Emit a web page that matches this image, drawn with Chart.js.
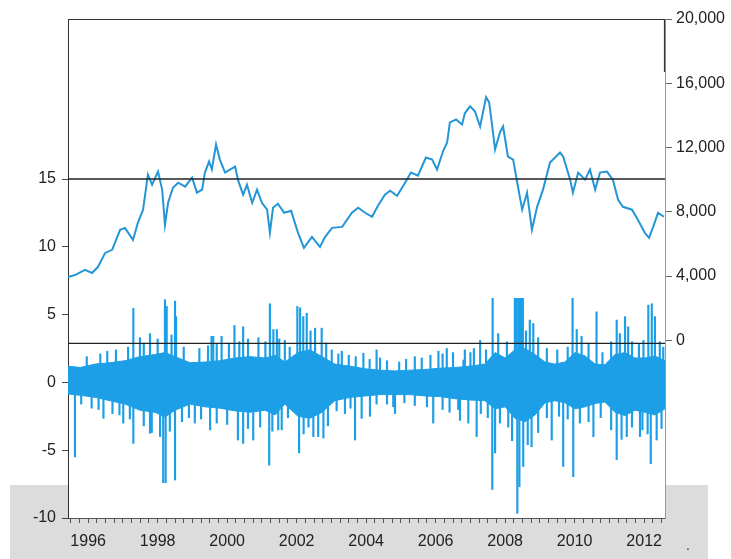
<!DOCTYPE html>
<html>
<head>
<meta charset="utf-8">
<script src="https://cdn.jsdelivr.net/npm/chart.js@4/dist/chart.umd.min.js"></script>
<style>
  html, body { margin: 0; padding: 0; background: #fff; }
  canvas { display: block; }
</style>
</head>
<body>
<canvas id="chart" width="731" height="559"></canvas>
<script>
// index level (right axis)
const priceYears = [1995.42, 1995.62, 1995.91, 1996.11, 1996.28, 1996.49, 1996.69, 1996.92, 1997.06, 1997.29,
  1997.43, 1997.58, 1997.72, 1997.84, 1998.01, 1998.13, 1998.21, 1998.30, 1998.44, 1998.59,
  1998.79, 1998.99, 1999.13, 1999.28, 1999.36, 1999.48, 1999.56, 1999.68, 1999.79, 1999.94,
  2000.08, 2000.23, 2000.31, 2000.46, 2000.57, 2000.72, 2000.86, 2001.00, 2001.15, 2001.23,
  2001.32, 2001.46, 2001.64, 2001.84, 2002.04, 2002.21, 2002.44, 2002.67, 2002.82, 2003.02,
  2003.31, 2003.59, 2003.77, 2003.97, 2004.17, 2004.34, 2004.54, 2004.69, 2004.89, 2005.12,
  2005.29, 2005.49, 2005.72, 2005.90, 2006.04, 2006.21, 2006.33, 2006.41, 2006.59, 2006.76,
  2006.84, 2006.99, 2007.13, 2007.28, 2007.45, 2007.54, 2007.65, 2007.71, 2007.85, 2007.94,
  2008.08, 2008.23, 2008.37, 2008.49, 2008.63, 2008.77, 2008.92, 2009.09, 2009.29, 2009.58,
  2009.67, 2009.87, 2009.95, 2010.10, 2010.30, 2010.44, 2010.59, 2010.73, 2010.93, 2011.10,
  2011.25, 2011.39, 2011.65, 2011.82, 2012.02, 2012.14, 2012.26, 2012.40, 2012.57];
const priceValues = [3940, 4060, 4380, 4190, 4560, 5440, 5630, 6880, 7000, 6250,
  7310, 8130, 10310, 9690, 10500, 9380, 7190, 8560, 9500, 9810,
  9560, 10130, 9190, 9380, 10440, 11130, 10630, 12190, 11250, 10440,
  10630, 10810, 10000, 9060, 9690, 8560, 9380, 8560, 8130, 6690,
  8250, 8500, 7940, 8060, 6690, 5750, 6440, 5810, 6440, 7000,
  7060, 7940, 8250, 7940, 7690, 8380, 9060, 9310, 9000, 9810,
  10440, 10250, 11380, 11250, 10630, 11750, 12310, 13560, 13750, 13440,
  14130, 14560, 14250, 13310, 15130, 14810, 12940, 11880, 12940, 13310,
  11440, 11250, 9560, 8130, 9190, 6880, 8310, 9380, 11060, 11690,
  11440, 10000, 9190, 10440, 10000, 10630, 9380, 10440, 10500, 10000,
  8750, 8310, 8130, 7500, 6690, 6380, 7060, 7940, 7690];

// returns (left axis): dense core band
const bandYears = [1995.42, 1995.77, 1996.20, 1996.63, 1997.06, 1997.49, 1997.92, 1998.21, 1998.50, 1998.93,
  1999.36, 1999.79, 2000.23, 2000.66, 2001.09, 2001.38, 2001.66, 2002.04, 2002.38, 2002.73,
  2003.10, 2003.54, 2003.97, 2004.40, 2004.83, 2005.26, 2005.69, 2006.13, 2006.56, 2006.99,
  2007.42, 2007.71, 2008.00, 2008.28, 2008.57, 2008.86, 2009.15, 2009.43, 2009.72, 2010.01,
  2010.30, 2010.59, 2010.87, 2011.16, 2011.45, 2011.73, 2012.02, 2012.31, 2012.60];
const bandUpper = [1.2, 1.1, 1.35, 1.45, 1.6, 1.9, 2.05, 2.2, 1.9, 1.45,
  1.5, 1.6, 1.8, 1.9, 1.8, 2.0, 1.5, 2.2, 2.4, 1.9,
  1.35, 1.2, 1.0, 0.9, 0.85, 0.9, 0.95, 1.05, 1.1, 1.2,
  1.35, 2.2, 1.8, 2.4, 2.5, 2.05, 1.5, 1.35, 1.5, 2.2,
  1.95, 1.35, 1.3, 2.05, 2.2, 1.8, 1.8, 1.95, 1.6];
const bandLower = [-0.85, -0.95, -1.1, -1.35, -1.6, -2.05, -2.2, -2.55, -2.05, -1.6,
  -1.8, -1.9, -2.1, -2.2, -2.05, -2.4, -1.6, -2.5, -2.65, -2.2,
  -1.35, -1.1, -1.0, -0.9, -0.9, -0.9, -1.0, -1.05, -1.2, -1.3,
  -1.35, -1.95, -1.8, -2.65, -2.9, -2.4, -1.5, -1.35, -1.5, -1.95,
  -1.8, -1.55, -1.45, -2.2, -2.45, -2.05, -2.2, -2.4, -1.95];

// returns (left axis): individual spikes, upward then downward
const spikeYears = [1995.96, 1996.35, 1996.55, 1996.80, 1997.15, 1997.30, 1997.49, 1997.60, 1997.78, 1998.00,
  1998.21, 1998.26, 1998.40, 1998.50, 1998.53, 1998.75, 1999.20, 1999.45, 1999.55, 1999.60,
  1999.70, 1999.84, 2000.05, 2000.21, 2000.35, 2000.46, 2000.60, 2000.90, 2001.10, 2001.23,
  2001.33, 2001.43, 2001.50, 2001.66, 2001.80, 2002.02, 2002.10, 2002.19, 2002.29, 2002.40,
  2002.53, 2002.72, 2002.85, 2003.01, 2003.20, 2003.30, 2003.50, 2003.70, 2003.92, 2004.10,
  2004.30, 2004.40, 2004.60, 2004.95, 2005.15, 2005.40, 2005.60, 2005.85, 2006.08, 2006.20,
  2006.32, 2006.50, 2006.80, 2006.84, 2007.00, 2007.10, 2007.28, 2007.45, 2007.64, 2007.80,
  2008.05, 2008.28, 2008.33, 2008.38, 2008.43, 2008.47, 2008.51, 2008.60, 2008.71, 2008.81,
  2008.95, 2009.20, 2009.50, 2009.80, 2009.94, 2010.06, 2010.20, 2010.40, 2010.63, 2010.80,
  2011.05, 2011.21, 2011.30, 2011.45, 2011.54, 2011.65, 2011.85, 2011.98, 2012.12, 2012.22,
  2012.31, 2012.45, 2012.55,
  1995.62, 1995.80, 1996.10, 1996.30, 1996.44, 1996.70, 1996.90, 1997.01, 1997.20, 1997.30,
  1997.60, 1997.78, 1997.83, 1998.07, 1998.16, 1998.23, 1998.35, 1998.50, 1998.70, 1998.90,
  1999.07, 1999.25, 1999.51, 1999.70, 2000.00, 2000.31, 2000.46, 2000.60, 2000.75, 2000.95,
  2001.21, 2001.30, 2001.47, 2001.57, 2001.75, 2002.07, 2002.20, 2002.34, 2002.48, 2002.62,
  2002.77, 2002.90, 2003.15, 2003.39, 2003.55, 2003.68, 2003.87, 2004.11, 2004.30, 2004.60,
  2004.78, 2004.83, 2005.10, 2005.40, 2005.75, 2005.93, 2006.20, 2006.40, 2006.65, 2006.70,
  2006.94, 2007.18, 2007.30, 2007.50, 2007.63, 2007.71, 2007.85, 2008.09, 2008.20, 2008.35,
  2008.41, 2008.52, 2008.65, 2008.76, 2008.95, 2009.20, 2009.34, 2009.55, 2009.67, 2009.80,
  2009.96, 2010.15, 2010.40, 2010.54, 2010.75, 2011.05, 2011.21, 2011.35, 2011.50, 2011.65,
  2011.88, 2011.95, 2012.10, 2012.19, 2012.36, 2012.50];
const spikeValues = [1.9, 2.1, 2.3, 2.4, 2.6, 5.46, 3.3, 2.9, 3.6, 3.2,
  6.1, 5.6, 3.5, 6.0, 4.85, 2.6, 2.5, 2.7, 3.4, 3.4,
  2.8, 3.4, 2.9, 4.2, 3.0, 4.1, 3.2, 3.3, 3.0, 5.8,
  3.9, 3.9, 3.2, 3.1, 2.6, 5.6, 5.5, 4.85, 5.1, 3.8,
  4.0, 4.0, 2.9, 2.4, 2.1, 2.3, 2.0, 1.9, 2.15, 1.7,
  2.4, 1.8, 1.6, 1.5, 1.7, 1.9, 1.8, 2.0, 2.3, 2.1,
  2.5, 2.2, 1.65, 2.4, 2.2, 2.5, 3.1, 2.4, 6.2, 3.6,
  3.0, 6.2, 6.2, 6.2, 6.2, 6.2, 6.2, 3.8, 4.6, 4.35,
  3.3, 2.5, 2.4, 2.6, 6.2, 3.9, 3.4, 2.9, 5.2, 2.2,
  3.0, 4.6, 3.6, 4.85, 4.1, 3.0, 2.8, 3.1, 5.7, 5.8,
  4.85, 3.0, 2.6,
  -5.5, -1.6, -1.9, -2.0, -2.65, -2.3, -2.4, -3.0, -2.7, -4.5,
  -3.2, -3.75, -3.7, -4.0, -7.4, -7.4, -3.6, -7.2, -2.9, -2.6,
  -3.0, -2.7, -3.5, -3.0, -3.1, -4.25, -4.5, -3.4, -4.25, -3.3,
  -6.1, -3.6, -3.5, -3.5, -2.6, -5.2, -3.8, -3.3, -4.0, -4.0,
  -4.1, -3.2, -2.1, -2.3, -1.9, -4.25, -2.65, -2.5, -1.6, -1.6,
  -1.8, -2.3, -1.5, -1.7, -1.8, -3.0, -2.0, -2.2, -2.0, -2.8,
  -3.0, -4.0, -2.3, -2.6, -7.9, -5.2, -3.0, -3.3, -4.3, -9.65,
  -7.7, -6.2, -4.6, -4.75, -3.7, -2.6, -4.25, -2.5, -6.2, -2.7,
  -6.95, -3.0, -2.9, -4.0, -2.6, -3.5, -5.7, -4.2, -4.0, -3.3,
  -4.0, -3.5, -3.8, -6.0, -4.25, -3.4];

// horizontal reference lines (left axis)
const refLines = [15, 2.88];

const yearLabels = ['1996', '1998', '2000', '2002', '2004', '2006', '2008', '2010', '2012'];
const leftTicks = [-10, -5, 0, 5, 10, 15];
const rightTicks = [0, 4000, 8000, 12000, 16000, 20000];

const xStart = 1995.42;
const xEnd = 2012.6;
const blue = '#1c9fe6';
const priceBlue = '#2496d6';

const backdrop = {
  id: 'backdrop',
  beforeDraw(chart) {
    const {ctx, chartArea: a} = chart;
    ctx.save();
    ctx.fillStyle = '#fff';
    ctx.fillRect(0, 0, chart.width, chart.height);
    ctx.fillStyle = '#dcdcdc';
    ctx.fillRect(10, 485, 698, chart.height - 485);
    ctx.fillStyle = '#fff';
    ctx.fillRect(a.left, a.top, a.right - a.left, a.bottom - a.top);
    ctx.restore();
  },
  afterDraw(chart) {
    const {ctx, chartArea: a} = chart;
    ctx.save();
    ctx.strokeStyle = '#333';
    ctx.lineWidth = 1.2;
    ctx.beginPath();
    ctx.moveTo(a.left, a.top + 0.5);
    ctx.lineTo(a.right, a.top + 0.5);
    ctx.moveTo(a.right - 0.5, a.top);
    ctx.lineTo(a.right - 0.5, a.top + 53);
    ctx.stroke();
    ctx.fillStyle = '#333';
    ctx.font = '14px "Liberation Sans", Arial, sans-serif';
    ctx.fillText('.', 686, 550);
    ctx.restore();
  }
};

const lineData = (xs, ys) => xs.map((t, i) => ({x: t, y: ys[i]}));

const datasets = [];
refLines.forEach(v => {
  datasets.push({
    type: 'line',
    yAxisID: 'y',
    data: [{x: xStart, y: v}, {x: xEnd, y: v}],
    borderColor: '#222',
    borderWidth: 1.3,
    pointRadius: 0,
    order: 0
  });
});
datasets.push({
  type: 'line',
  yAxisID: 'y2',
  data: lineData(priceYears, priceValues),
  borderColor: priceBlue,
  borderWidth: 2,
  pointRadius: 0,
  tension: 0,
  order: 1
});
datasets.push({
  type: 'bar',
  yAxisID: 'y',
  data: spikeYears.map((t, i) => ({x: t, y: [0, spikeValues[i]]})),
  backgroundColor: blue,
  barThickness: 1.5,
  grouped: false,
  order: 2
});
datasets.push({
  type: 'line',
  yAxisID: 'y',
  data: lineData(bandYears, bandUpper),
  borderColor: blue,
  borderWidth: 1,
  backgroundColor: blue,
  pointRadius: 0,
  fill: '+1',
  order: 3
});
datasets.push({
  type: 'line',
  yAxisID: 'y',
  data: lineData(bandYears, bandLower),
  borderColor: blue,
  borderWidth: 1,
  pointRadius: 0,
  fill: false,
  order: 4
});

const font = {family: '"Liberation Sans", Arial, sans-serif', size: 16};

new Chart(document.getElementById('chart'), {
  type: 'line',
  data: {datasets},
  plugins: [backdrop],
  options: {
    responsive: false,
    animation: false,
    layout: {padding: {top: 19, left: 0, right: 0, bottom: 0}},
    plugins: {legend: {display: false}, tooltip: {enabled: false}},
    scales: {
      x: {
        type: 'linear',
        min: xStart,
        max: xEnd,
        offset: false,
        afterBuildTicks: s => {
          const t = [];
          for (let q = 1995.5; q <= 2012.5; q += 0.25) t.push({value: q});
          s.ticks = t;
        },
        afterFit: s => { s.height = 41; },
        grid: {drawOnChartArea: false, offset: false, tickLength: 5, color: '#555'},
        border: {color: '#555', width: 1},
        ticks: {
          autoSkip: false,
          maxRotation: 0,
          padding: 9,
          color: '#222',
          font,
          callback: v => {
            const s = String(Math.round(v));
            return Math.abs(v - Math.round(v)) < 1e-6 && yearLabels.includes(s) ? s : '';
          }
        }
      },
      y: {
        position: 'left',
        min: -10,
        max: 26.8,
        afterBuildTicks: s => { s.ticks = leftTicks.map(v => ({value: v})); },
        afterFit: s => { s.width = 68; },
        grid: {drawOnChartArea: false, tickLength: 6, color: '#444'},
        border: {color: '#333', width: 1},
        ticks: {padding: 6, color: '#222', font, callback: v => String(v)}
      },
      y2: {
        position: 'right',
        min: -11060,
        max: 20000,
        afterBuildTicks: s => { s.ticks = rightTicks.map(v => ({value: v})); },
        afterFit: s => { s.width = 66; },
        grid: {drawOnChartArea: false, tickLength: 7, color: '#666'},
        border: {color: '#999', width: 1},
        ticks: {padding: 4, color: '#222', font, callback: v => v.toLocaleString('en-US')}
      }
    }
  }
});
</script>
</body>
</html>
